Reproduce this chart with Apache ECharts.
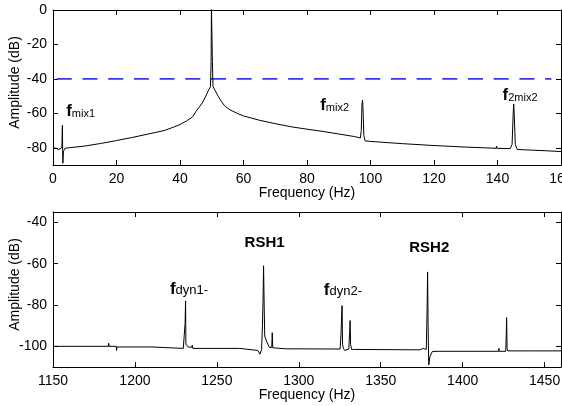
<!DOCTYPE html>
<html>
<head>
<meta charset="utf-8">
<script src="https://cdn.jsdelivr.net/npm/echarts@6/dist/echarts.min.js"></script>
<style>
html,body{margin:0;padding:0;background:#fff;}
#chart{width:562px;height:406px;}
</style>
</head>
<body>
<div id="chart"></div>
<script>
// ---------- Top spectrum (0-160 Hz) ----------
var topFreq = [0,1,1.8,2.4,2.8,2.95,3.1,3.3,3.8,5,10,15,20,25,30,35,38,40,42,44,45,46,47,48,49,49.6,49.8,49.9,50.1,50.2,50.4,51,52,53,54,55,56,58,60,65,70,75,80,85,90,95,96.8,97.1,97.3,97.5,97.7,97.9,98.3,100,110,120,130,139.6,139.7,139.8,144,144.6,144.9,145.1,145.3,145.6,146.2,150,155,160];
var topAmp  = [-80,-80.3,-81,-82,-80,-67,-89,-82,-80.3,-80,-79,-77.5,-75.8,-74,-72,-70,-68,-66.5,-64.5,-62,-59,-56.5,-54,-50.5,-46.5,-44.5,-30,2,2,-30,-44.5,-46.5,-50,-53,-55.5,-57,-58.2,-60,-61.5,-64,-66,-67.8,-69.2,-70.5,-72,-73.5,-74.3,-70,-55,-52.3,-60,-73,-76,-76.3,-77.6,-78.7,-79.6,-80.3,-79,-80.3,-80.5,-78,-62,-54.6,-62,-78,-81,-81.3,-81.7,-82.2];
var thresholdFreq = [1.2, 157];
var thresholdAmp = [-40, -40];
var topNoteSub  = ['mix1','mix2','2mix2'];
var topNoteFreq = [8.7, 88.7, 147.1];
var topNoteAmp  = [-59, -55.6, -49.8];

// ---------- Bottom spectrum (1150-1460 Hz) ----------
var botFreq = [1150,1183.8,1184,1184.3,1188.6,1188.8,1189,1210.3,1210.6,1229.5,1230.3,1230.6,1230.9,1231.1,1231.6,1232.5,1234.5,1235,1235.3,1264,1264.3,1275,1276.3,1277.3,1277.8,1278.2,1278.5,1278.8,1279.2,1280.3,1282,1283.5,1283.8,1284.1,1284.8,1292,1292.3,1325.2,1325.7,1326.1,1326.4,1326.7,1327.2,1328,1330.5,1331,1331.3,1331.6,1332.2,1334,1374,1375.9,1376.5,1377.8,1378.3,1378.6,1378.9,1379.3,1380,1381.5,1385,1421.9,1422.1,1422.3,1426.3,1426.6,1426.8,1427.1,1427.5,1440,1460];
var botAmp  = [-100,-100,-98.5,-100,-100,-102,-100.3,-100.3,-101,-101,-100.5,-89,-78,-99,-98.5,-100.3,-100.5,-99.5,-101,-101,-101.8,-102,-103.8,-101.5,-90,-77.2,-61,-77,-95,-97.5,-100.5,-100.5,-93.4,-100.7,-101,-101.2,-101.5,-101.3,-95,-95.4,-80.3,-99,-101,-102,-101.3,-93.4,-87.5,-99,-101.5,-101.5,-101.7,-101,-101.7,-101.5,-81.3,-64,-90,-109,-105,-102.5,-102.4,-102.4,-101,-102.4,-102.4,-94.2,-86.1,-101,-102.2,-102.2,-102.2];
var botNoteText = ['{f|f}{t|dyn1-}','{r|RSH1}','{f|f}{t|dyn2-}','{r|RSH2}'];
var botNoteFreq = [1233, 1279.1, 1326.9, 1379.6];
var botNoteAmp  = [-72.4, -50.1, -72.9, -52.3];

var FONT = '"Liberation Sans", Arial, Helvetica, sans-serif';
function pairs(xs, ys){ return xs.map(function(x,i){ return [x, ys[i]]; }); }
function plain(v){ return String(v); }

var richStyle = {
  f: {fontFamily: FONT, fontSize: 17, fontWeight: 'bold', color: '#000', verticalAlign: 'bottom'},
  s: {fontFamily: FONT, fontSize: 11, color: '#000', verticalAlign: 'bottom', padding: [0,0,1,0]},
  t: {fontFamily: FONT, fontSize: 13, color: '#000', verticalAlign: 'bottom', padding: [0,0,1,0]},
  r: {fontFamily: FONT, fontSize: 15, fontWeight: 'bold', color: '#000'}
};

function mkX(grid, min, max, interval, pos, showLabel, hideMax){
  return {
    type: 'value', gridIndex: grid, min: min, max: max, interval: interval, position: pos,
    axisLine: {show: true, onZero: false, lineStyle: {color: '#000', width: 1}},
    axisTick: {show: true, inside: true, length: 5, lineStyle: {color: '#000'}},
    axisLabel: {show: showLabel, color: '#000', fontSize: 14, fontFamily: FONT, margin: 7, formatter: plain, showMaxLabel: hideMax ? false : true},
    splitLine: {show: false},
    name: showLabel ? 'Frequency (Hz)' : '',
    nameLocation: 'middle', nameGap: 21, nameMoveOverlap: false,
    nameTextStyle: {color: '#000', fontSize: 14, fontFamily: FONT}
  };
}
function mkY(grid, min, max, split, pos, showLabel){
  return {
    type: 'value', gridIndex: grid, min: min, max: max, splitNumber: split, position: pos,
    axisLine: {show: true, onZero: false, lineStyle: {color: '#000', width: 1}},
    axisTick: {show: true, inside: true, length: 5, lineStyle: {color: '#000'}},
    axisLabel: {show: showLabel, color: '#000', fontSize: 14, fontFamily: FONT, margin: 6, formatter: plain, showMinLabel: false, showMaxLabel: grid === 0},
    splitLine: {show: false},
    name: showLabel ? 'Amplitude (dB)' : '',
    nameLocation: 'middle', nameGap: 31, nameRotate: 90, nameMoveOverlap: false,
    nameTextStyle: {color: '#000', fontSize: 14, fontFamily: FONT, padding: [0, 0, 0, 10]}
  };
}

var chart = echarts.init(document.getElementById('chart'), null, {renderer: 'canvas'});
chart.setOption({
  animation: false,
  backgroundColor: '#fff',
  grid: [
    {left: 53, top: 10, width: 508, height: 155, containLabel: false, outerBoundsMode: 'none'},
    {left: 53, top: 212, width: 508, height: 155, containLabel: false, outerBoundsMode: 'none'}
  ],
  xAxis: [
    mkX(0, 0, 160, 20, 'bottom', true, false),
    mkX(0, 0, 160, 20, 'top', false, false),
    mkX(1, 1150, 1460, 50, 'bottom', true, true),
    mkX(1, 1150, 1460, 50, 'top', false, true)
  ],
  yAxis: [
    mkY(0, -90, 0, 5, 'left', true),
    mkY(0, -90, 0, 5, 'right', false),
    mkY(1, -110, -35, 4, 'left', true),
    mkY(1, -110, -35, 4, 'right', false)
  ],
  series: [
    {
      type: 'line', xAxisIndex: 0, yAxisIndex: 0, data: pairs(thresholdFreq, thresholdAmp),
      showSymbol: false, symbol: 'none',
      lineStyle: {color: '#3535ff', width: 1.6, type: [15, 10.7]}
    },
    {
      type: 'line', xAxisIndex: 0, yAxisIndex: 0, data: pairs(topFreq, topAmp),
      showSymbol: false, symbol: 'none', clip: true,
      lineStyle: {color: '#000', width: 1},
      markPoint: {
        symbol: 'circle', symbolSize: 0, silent: true,
        label: {show: true, position: 'inside', rich: richStyle},
        data: topNoteSub.map(function(s, i){
          return {coord: [topNoteFreq[i], topNoteAmp[i]], label: {formatter: '{f|f}{s|' + s + '}'}};
        })
      }
    },
    {
      type: 'line', xAxisIndex: 2, yAxisIndex: 2, data: pairs(botFreq, botAmp),
      showSymbol: false, symbol: 'none', clip: true,
      lineStyle: {color: '#000', width: 1},
      markPoint: {
        symbol: 'circle', symbolSize: 0, silent: true,
        label: {show: true, position: 'inside', rich: richStyle},
        data: botNoteText.map(function(t, i){
          return {coord: [botNoteFreq[i], botNoteAmp[i]], label: {formatter: t}};
        })
      }
    }
  ]
});
</script>
</body>
</html>
